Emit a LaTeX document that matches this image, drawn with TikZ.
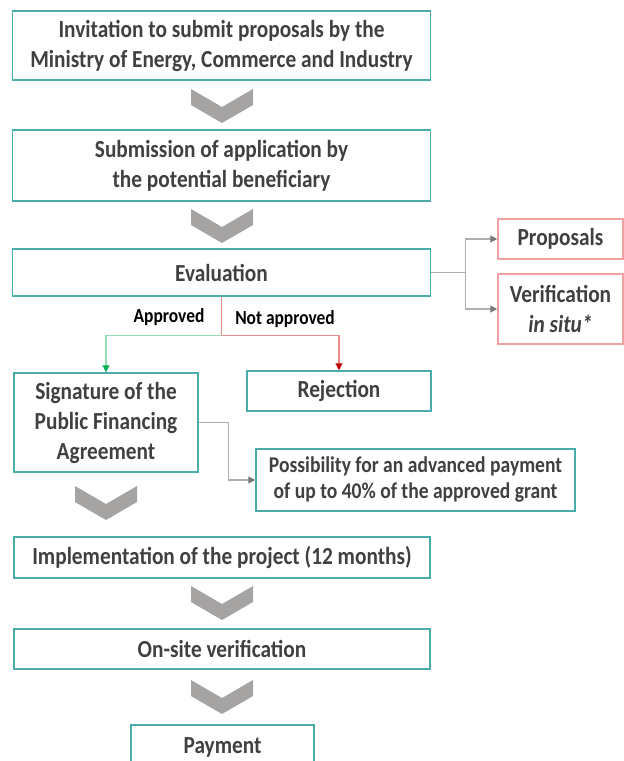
\documentclass[tikz,border=0pt]{standalone}
\usepackage{fontspec}
\setmainfont{Carlito}[FakeStretch=0.87]
\usetikzlibrary{arrows.meta, positioning}

\definecolor{boxteal}{RGB}{75,172,172}
\definecolor{boxred}{RGB}{240,160,160}
\definecolor{textgray}{RGB}{64,64,64}
\definecolor{chevgray}{RGB}{166,163,163}
\definecolor{linegray}{RGB}{175,175,175}
\definecolor{tipgray}{RGB}{120,120,120}
\definecolor{okgreen}{RGB}{150,220,180}
\definecolor{tipgreen}{RGB}{0,176,80}
\definecolor{nored}{RGB}{232,140,140}
\definecolor{tipred}{RGB}{192,0,0}

\begin{document}
\begin{tikzpicture}
% Style
[
    x=1pt, y=-1pt, line join=miter,
    process box/.style={draw=boxteal, line width=1.5pt, fill=white, text=textgray, align=center,
        inner sep=0pt, font=\bfseries\fontsize{24.5}{30}\selectfont},
    check box/.style={process box, draw=boxred},
    small text/.style={font=\bfseries\fontsize{22.5}{26}\selectfont},
    branch text/.style={text=black, inner sep=0pt, font=\bfseries\fontsize{20}{24}\selectfont},
    chevron/.style={fill=chevgray},
    flow line/.style={draw=linegray, line width=1.2pt, -{Triangle[length=7pt,width=7pt,color=tipgray]}},
    approved line/.style={draw=okgreen, line width=1.2pt, -{Triangle[length=7pt,width=7pt,color=tipgreen]}},
    rejected line/.style={draw=nored, line width=1.2pt, -{Triangle[length=7pt,width=7pt,color=tipred]}}
]

% Define: Chevron
\newcommand{\drawchevron}[2]{
    % Draw: chevron
    \fill[chevron] (#1-31,#2) -- (#1,#2+18) -- (#1+31,#2) -- (#1+31,#2+16)
        -- (#1,#2+34) -- (#1-31,#2+16) -- cycle;
}

%================================== Prepare ==================================
\useasboundingbox (0,0) rectangle (624,761);

%=================================== Start ===================================
{
    % Draw: Main steps
    \node[process box, minimum width=418, minimum height=69] (invite) at (221.5,45.5)
        {Invitation to submit proposals by the\\Ministry of Energy, Commerce and Industry};
    \node[process box, minimum width=418, minimum height=71] (submit) at (221.5,165.5)
        {Submission of application by\\the potential beneficiary};
    \node[process box, minimum width=418, minimum height=47] (eval) at (221.5,272.5) {Evaluation};

    % Draw: Checks
    \node[check box, minimum width=125, minimum height=40] (prop) at (560.5,239) {Proposals};
    \node[check box, minimum width=125, minimum height=70] (verif) at (560.5,309)
        {Verification\\\textit{in situ*}};

    % Draw: Decision
    \node[process box, minimum width=184, minimum height=99] (sign) at (106,422.5)
        {Signature of the\\Public Financing\\Agreement};
    \node[process box, minimum width=184, minimum height=40] (reject) at (339,391) {Rejection};
    \node[process box, small text, minimum width=319, minimum height=62] (advance) at (415.5,480)
        {Possibility for an advanced payment\\of up to 40\% of the approved grant};

    % Draw: Final steps
    \node[process box, minimum width=416, minimum height=41] (impl) at (222,557.5)
        {Implementation of the project (12 months)};
    \node[process box, minimum width=416, minimum height=40] (onsite) at (222,649) {On-site verification};
    \node[process box, minimum width=183, minimum height=44] (pay) at (222.5,747) {Payment};

    % Draw: Chevrons
    \foreach \cx / \cy in {222/89, 222/209, 106/486, 222/586, 222/680} {
        \drawchevron{\cx}{\cy};
    }

    % Draw: Connectors
    \draw[draw=linegray, line width=1.2pt] (eval.east) -- ++(34,0) coordinate (split);
    \draw[flow line] (split) |- (prop.west);
    \draw[flow line] (split) |- (verif.west);

    \draw[draw=nored, line width=1.2pt] (eval.south) -- ++(0,39) coordinate (fork);
    \draw[approved line] (fork) -| (sign.north);
    \draw[rejected line] (fork) -| (reject.north);
    \node[branch text] (yes) at (169,317) {Approved};
    \node[branch text] (no) at (285,319) {Not approved};

    \draw[flow line] (sign.east) -- ++(30,0) |- (advance.west);
}
%==================================== END ====================================

\end{tikzpicture}
\end{document}
